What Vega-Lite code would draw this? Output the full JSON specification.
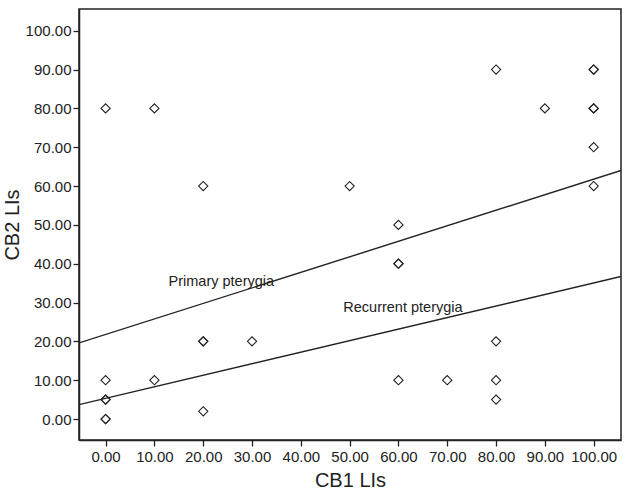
{
  "$schema": "https://vega.github.io/schema/vega-lite/v6.json",
  "autosize": "none",
  "padding": {"left": 79, "top": 9, "right": 9, "bottom": 57},
  "width": 542,
  "height": 431,
  "background": "white",
  "config": {
    "font": "Liberation Sans",
    "view": {"stroke": "#222222", "strokeWidth": 1.5},
    "axis": {
      "grid": false,
      "domainColor": "#222222",
      "domainWidth": 1.5,
      "tickColor": "#222222",
      "tickWidth": 1.3,
      "tickSize": 6,
      "labelFont": "Liberation Sans",
      "labelFontSize": 15,
      "labelColor": "#222222",
      "titleFont": "Liberation Sans",
      "titleFontSize": 20,
      "titleFontWeight": "normal",
      "titleColor": "#222222"
    }
  },
  "datasets": {
    "points": [
      {"cb1": 0, "cb2": 80},
      {"cb1": 10, "cb2": 80},
      {"cb1": 20, "cb2": 60},
      {"cb1": 50, "cb2": 60},
      {"cb1": 60, "cb2": 50},
      {"cb1": 60, "cb2": 40},
      {"cb1": 60, "cb2": 40},
      {"cb1": 80, "cb2": 90},
      {"cb1": 90, "cb2": 80},
      {"cb1": 100, "cb2": 90},
      {"cb1": 100, "cb2": 90},
      {"cb1": 100, "cb2": 80},
      {"cb1": 100, "cb2": 80},
      {"cb1": 100, "cb2": 70},
      {"cb1": 100, "cb2": 60},
      {"cb1": 0, "cb2": 10},
      {"cb1": 0, "cb2": 5},
      {"cb1": 0, "cb2": 5},
      {"cb1": 0, "cb2": 0},
      {"cb1": 0, "cb2": 0},
      {"cb1": 10, "cb2": 10},
      {"cb1": 20, "cb2": 20},
      {"cb1": 20, "cb2": 20},
      {"cb1": 20, "cb2": 2},
      {"cb1": 30, "cb2": 20},
      {"cb1": 60, "cb2": 10},
      {"cb1": 70, "cb2": 10},
      {"cb1": 80, "cb2": 20},
      {"cb1": 80, "cb2": 10},
      {"cb1": 80, "cb2": 5}
    ],
    "lines": [
      {"series": "Primary pterygia", "cb1": -5.45, "cb2": 19.6},
      {"series": "Primary pterygia", "cb1": 105.6, "cb2": 64.0},
      {"series": "Recurrent pterygia", "cb1": -5.45, "cb2": 3.7},
      {"series": "Recurrent pterygia", "cb1": 105.6, "cb2": 36.7}
    ],
    "labels": [
      {"label": "Primary pterygia", "cb1": 12.9, "cb2": 35.3},
      {"label": "Recurrent pterygia", "cb1": 48.7, "cb2": 28.6}
    ]
  },
  "encoding": {
    "x": {
      "field": "cb1",
      "type": "quantitative",
      "scale": {"domain": [-5.45, 105.6], "nice": false, "zero": false},
      "axis": {"title": "CB1 LIs", "values": [0, 10, 20, 30, 40, 50, 60, 70, 80, 90, 100], "format": ".2f", "labelPadding": 3, "titlePadding": 6, "labelFlush": false}
    },
    "y": {
      "field": "cb2",
      "type": "quantitative",
      "scale": {"domain": [-5.4, 105.6], "nice": false, "zero": false},
      "axis": {"title": "CB2 LIs", "values": [0, 10, 20, 30, 40, 50, 60, 70, 80, 90, 100], "format": ".2f", "labelPadding": 2, "titlePadding": 3, "labelFlush": false}
    }
  },
  "layer": [
    {
      "data": {"name": "lines"},
      "mark": {"type": "line", "color": "#222222", "strokeWidth": 1.4, "clip": true},
      "encoding": {"detail": {"field": "series", "type": "nominal"}}
    },
    {
      "data": {"name": "points"},
      "mark": {"type": "point", "shape": "diamond", "size": 85, "filled": false, "stroke": "#222222", "strokeWidth": 1.1, "opacity": 1}
    },
    {
      "data": {"name": "labels"},
      "mark": {"type": "text", "align": "left", "baseline": "middle", "fontSize": 14.5, "color": "#222222", "font": "Liberation Sans"},
      "encoding": {"text": {"field": "label", "type": "nominal"}}
    }
  ]
}
